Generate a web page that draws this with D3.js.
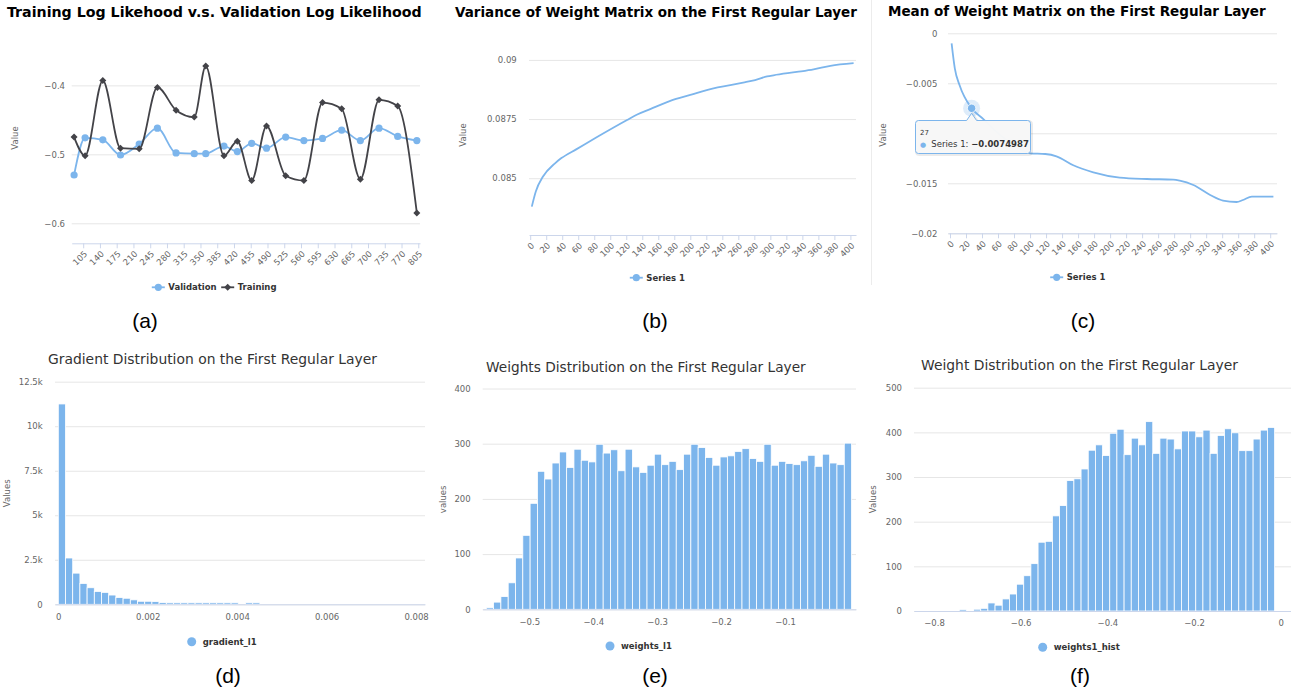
<!DOCTYPE html>
<html>
<head>
<meta charset="utf-8">
<script src="https://cdn.jsdelivr.net/npm/d3@7"></script>
<style>
  body { margin: 0; background: #fff; }
  svg { display: block; }
</style>
</head>
<body>
<script>
'use strict';

// ---- (a) log likelihood ----
var llEpochs = [86, 109, 146, 183, 222, 260, 299, 337, 361, 399, 427, 457, 488, 528, 566, 605, 645, 684, 723, 762, 802];
var validationLL = [-0.530, -0.476, -0.479, -0.501, -0.485, -0.462, -0.498, -0.499, -0.499, -0.488, -0.496,
  -0.484, -0.491, -0.475, -0.480, -0.477, -0.465, -0.480, -0.462, -0.474, -0.480];
var trainingLL = [-0.475, -0.502, -0.393, -0.491, -0.492, -0.403, -0.436, -0.446, -0.372, -0.502, -0.481,
  -0.538, -0.459, -0.531, -0.538, -0.425, -0.434, -0.536, -0.421, -0.430, -0.585];
var llTicks = [105, 140, 175, 210, 245, 280, 315, 350, 385, 420, 455, 490, 525, 560, 595, 630, 665, 700, 735, 770, 805];
var llGrid = [-0.6, -0.5, -0.4];

// ---- (b) variance ----
var iterTicks = [0, 20, 40, 60, 80, 100, 120, 140, 160, 180, 200, 220, 240, 260, 280, 300, 320, 340, 360, 380, 400];
var varianceIter = [2, 7, 16, 31, 39, 58, 83, 121, 133, 150, 175, 200, 229, 250, 266, 281, 296, 304, 333, 354, 375, 404];
var varianceVal = [0.0838, 0.08444, 0.08507, 0.08563, 0.08585, 0.08623, 0.08673, 0.08746, 0.08768, 0.08792, 0.08827,
  0.08852, 0.0888, 0.08893, 0.08904, 0.08915, 0.0893, 0.08935, 0.08949, 0.0896, 0.08975, 0.08986];
var varianceGrid = [0.085, 0.0875, 0.09];

// ---- (c) mean ----
var meanIter = [2, 6, 12, 27, 42, 56, 71, 86, 100, 119, 133, 154, 179, 212, 246, 279, 287, 304, 325, 341, 358, 366, 377, 404];
var meanVal = [-0.001, -0.0035, -0.0052, -0.0074987, -0.0086, -0.0097, -0.0107, -0.0115, -0.0120, -0.01207, -0.0123,
  -0.0132, -0.0139, -0.01443, -0.01457, -0.01463, -0.01473, -0.01517, -0.01617, -0.01673, -0.01687, -0.01667,
  -0.01633, -0.01633];
var meanGrid = [-0.02, -0.015, -0.01, -0.005, 0];
var meanHiddenLabel = -0.01; // covered by the tooltip in the screenshot
var hoverIndex = 3;

// ---- (d) gradient histogram ----
var gradientCounts = [11250, 2600, 1750, 1170, 930, 720, 670, 520, 380, 340, 250, 170, 170, 150, 100, 70, 70, 40, 60,
  30, 30, 30, 30, 30, 30, 0, 30, 30, 0, 0, 0, 0, 0, 0, 0, 0, 0, 0, 0, 0, 0, 0, 0, 0, 0, 0, 0, 0, 0, 0];
var gradientStart = 0, gradientStep = 0.000161;
var gradientTicks = [0, 0.002, 0.004, 0.006, 0.008];
var gradientGrid = [0, 2500, 5000, 7500, 10000, 12500];

// ---- (e) weights_l1 histogram ----
var weightsL1Counts = [2, 13, 23, 48, 93, 134, 192, 250, 236, 265, 285, 257, 290, 270, 267, 299, 283, 289, 251, 290,
  258, 248, 261, 281, 262, 268, 253, 281, 299, 293, 275, 261, 276, 278, 286, 291, 273, 268, 299, 261,
  268, 264, 262, 269, 279, 259, 281, 265, 262, 301];
var weightsL1Start = -0.5673, weightsL1Step = 0.01143;
var weightsL1Ticks = [-0.5, -0.4, -0.3, -0.2, -0.1];
var weightsL1Grid = [0, 100, 200, 300, 400];

// ---- (f) weights1_hist histogram ----
var weights1Counts = [0, 0, 0, 0, 0, 0, 2, 0, 4, 6, 18, 13, 27, 38, 60, 79, 106, 154, 156, 213, 236, 292, 296, 318,
  360, 372, 348, 398, 407, 350, 387, 372, 424, 353, 387, 385, 363, 403, 403, 390, 405, 353, 393, 408,
  399, 359, 359, 385, 405, 411];
var weights1Start = -0.841, weights1Step = 0.01654;
var weights1Ticks = [-0.8, -0.6, -0.4, -0.2, 0];
var weights1Grid = [0, 100, 200, 300, 400, 500];

var BLUE = '#7cb5ec', DARK = '#434348', GRID = '#e6e6e6', AXIS = '#ccd6eb', LABEL = '#666666';
var FONT = '"DejaVu Sans", Verdana, sans-serif';

var svg = d3.select('body').append('svg')
  .attr('width', 1291).attr('height', 692)
  .style('font-family', FONT);

var num = function (d) { return (d < 0 ? '\u2212' : '') + Math.abs(d); };
var kilo = function (d) { return d === 0 ? '0' : (d / 1000) + 'k'; };

// shrink/grow a text's font size so it spans the given width
var fit = function (sel, width) {
  var fs = parseFloat(sel.attr('font-size'));
  sel.attr('font-size', (fs * width / sel.node().getComputedTextLength()).toFixed(2));
  return sel;
};

var title = function (x, y, w, text, bold) {
  var t = svg.append('text').attr('x', x).attr('y', y).attr('font-size', 14)
    .attr('font-weight', bold ? 'bold' : 'normal')
    .attr('fill', bold ? '#000' : '#333').text(text);
  fit(t, w);
};

var panel = function (p) {
  var x = d3.scaleLinear().domain(p.xDomain).range([p.left, p.right]);
  var y = d3.scaleLinear().domain(p.yDomain).range([p.bottom, p.top]);

  var gy = svg.append('g').attr('transform', 'translate(' + p.left + ',0)')
    .call(d3.axisLeft(y).tickValues(p.yTicks).tickFormat(p.yFormat)
      .tickSize(-(p.right - p.left)).tickPadding(p.left - p.labelRight));
  gy.attr('font-family', null).attr('font-size', 8.5);
  gy.select('.domain').remove();
  gy.selectAll('line').attr('stroke', GRID);
  gy.selectAll('text').attr('fill', LABEL);
  gy.selectAll('text').filter(function () { return this.textContent === ''; }).remove();

  svg.append('text')
    .attr('transform', 'translate(' + p.titleX + ',' + p.titleY + ') rotate(-90)')
    .attr('text-anchor', 'middle').attr('dy', '0.35em')
    .attr('font-size', 8.5).attr('fill', LABEL).text(p.yTitle);

  var plot = svg.append('g');

  var gx = svg.append('g').attr('transform', 'translate(0,' + p.bottom + ')')
    .call(d3.axisBottom(x).tickValues(p.xTicks).tickFormat(p.xFormat)
      .tickSizeInner(p.tickLen).tickSizeOuter(0).tickPadding(p.tickLen ? 3 : 9.4));
  gx.attr('font-family', null).attr('font-size', 8.5);
  gx.select('.domain').attr('stroke', AXIS);
  gx.selectAll('.tick line').attr('stroke', AXIS);
  gx.selectAll('text').attr('fill', LABEL);
  if (p.rotate) {
    gx.selectAll('text').attr('text-anchor', 'end').attr('y', 0).attr('dy', '0.35em')
      .attr('transform', 'translate(2,9) rotate(-45)');
  }
  return { x: x, y: y, plot: plot };
};

var diamond = function (r) {
  return 'M0,' + (-r) + 'L' + r + ',0L0,' + r + 'L' + (-r) + ',0Z';
};

var series = function (pn, xs, ys, color, marker) {
  var pts = d3.zip(xs, ys);
  var line = d3.line().curve(d3.curveMonotoneX)
    .x(function (d) { return pn.x(d[0]); })
    .y(function (d) { return pn.y(d[1]); });
  pn.plot.append('path').datum(pts).attr('d', line)
    .attr('fill', 'none').attr('stroke', color).attr('stroke-width', 1.8);
  if (marker === 'circle') {
    pn.plot.selectAll(null).data(pts).join('circle')
      .attr('cx', function (d) { return pn.x(d[0]); })
      .attr('cy', function (d) { return pn.y(d[1]); })
      .attr('r', 3.6).attr('fill', color);
  } else if (marker === 'diamond') {
    pn.plot.selectAll(null).data(pts).join('path')
      .attr('transform', function (d) { return 'translate(' + pn.x(d[0]) + ',' + pn.y(d[1]) + ')'; })
      .attr('d', diamond(3.5)).attr('fill', color);
  }
};

var bars = function (pn, counts, start, step) {
  var bins = counts.map(function (c, i) { return { c: c, x0: start + i * step, x1: start + (i + 1) * step }; })
    .filter(function (d) { return d.c > 0; });
  pn.plot.selectAll('rect').data(bins).join('rect')
    .attr('x', function (d) { return pn.x(d.x0); })
    .attr('width', function (d) { return pn.x(d.x1) - pn.x(d.x0); })
    .attr('y', function (d) { return Math.min(pn.y(d.c), pn.y(0) - 1.5); })
    .attr('height', function (d) { return pn.y(0) - Math.min(pn.y(d.c), pn.y(0) - 1.5); })
    .attr('fill', BLUE).attr('stroke', '#fff').attr('stroke-width', 0.8);
};

var legendText = function (x, y, text) {
  svg.append('text').attr('x', x).attr('y', y).attr('dy', '0.35em')
    .attr('font-size', 8.5).attr('font-weight', 'bold').attr('fill', '#333').text(text);
};

var legendLine = function (x, y, color, marker, text) {
  svg.append('line').attr('x1', x - 6.5).attr('x2', x + 6.5).attr('y1', y).attr('y2', y)
    .attr('stroke', color).attr('stroke-width', 1.8);
  if (marker === 'diamond') {
    svg.append('path').attr('transform', 'translate(' + x + ',' + y + ')').attr('d', diamond(3.5)).attr('fill', color);
  } else {
    svg.append('circle').attr('cx', x).attr('cy', y).attr('r', 3.6).attr('fill', color);
  }
  legendText(x + 10, y, text);
};

var legendDot = function (x, y, text) {
  svg.append('circle').attr('cx', x).attr('cy', y).attr('r', 4.5).attr('fill', BLUE);
  legendText(x + 11, y, text);
};

var caption = function (x, y, text) {
  svg.append('text').attr('x', x).attr('y', y).attr('text-anchor', 'middle')
    .attr('font-family', '"Liberation Sans", Arial, sans-serif').attr('font-size', 21)
    .attr('fill', '#000').text(text);
};

// faint frame edge left of panel (c)
svg.append('line').attr('x1', 871.5).attr('x2', 871.5).attr('y1', 0).attr('y2', 285)
  .attr('stroke', '#ececec');

// ---------- (a) ----------
title(7, 17, 415, 'Training Log Likehood v.s. Validation Log Likelihood', true);
var pa = panel({
  left: 71.7, right: 420, top: 43.3, bottom: 243.3,
  xDomain: [81, 808.6], yDomain: [-0.629, -0.339],
  yTicks: llGrid, yFormat: function (d) { return num(d.toFixed(1)); }, labelRight: 65,
  xTicks: llTicks, xFormat: String, tickLen: 5, rotate: true,
  yTitle: 'Value', titleX: 15, titleY: 138
});
series(pa, llEpochs, validationLL, BLUE, 'circle');
series(pa, llEpochs, trainingLL, DARK, 'diamond');
legendLine(158.3, 287.3, BLUE, 'circle', 'Validation');
legendLine(227.7, 287.3, DARK, 'diamond', 'Training');
caption(145, 328, '(a)');

// ---------- (b) ----------
title(455, 17, 402, 'Variance of Weight Matrix on the First Regular Layer', true);
var pb = panel({
  left: 529, right: 856, top: 31.5, bottom: 235,
  xDomain: [-1.5, 407], yDomain: [0.0826, 0.0912],
  yTicks: varianceGrid, yFormat: num, labelRight: 516.7,
  xTicks: iterTicks, xFormat: String, tickLen: 5, rotate: true,
  yTitle: 'Value', titleX: 463.3, titleY: 135
});
series(pb, varianceIter, varianceVal, BLUE, null);
legendLine(636.3, 277.7, BLUE, 'circle', 'Series 1');
caption(655, 328, '(b)');

// ---------- (c) ----------
title(888, 16, 378, 'Mean of Weight Matrix on the First Regular Layer', true);
var pc = panel({
  left: 948, right: 1277, top: 33.3, bottom: 233.3,
  xDomain: [-2.5, 408.5], yDomain: [-0.02, 0],
  yTicks: meanGrid, yFormat: function (d) { return d === meanHiddenLabel ? '' : num(d); }, labelRight: 937.3,
  xTicks: iterTicks, xFormat: String, tickLen: 5, rotate: true,
  yTitle: 'Value', titleX: 883.3, titleY: 135
});
series(pc, meanIter, meanVal, BLUE, null);
legendLine(1056.7, 277.3, BLUE, 'circle', 'Series 1');
caption(1083, 328, '(c)');

// hover state + tooltip
var hx = pc.x(meanIter[hoverIndex]), hy = pc.y(meanVal[hoverIndex]);
pc.plot.append('circle').attr('cx', hx).attr('cy', hy).attr('r', 8.5).attr('fill', BLUE).attr('fill-opacity', 0.25);
pc.plot.append('circle').attr('cx', hx).attr('cy', hy).attr('r', 4.2).attr('fill', BLUE)
  .attr('stroke', '#fff').attr('stroke-width', 0.8);
var bx0 = 915.5, by0 = 120.5, bx1 = 1030.5, by1 = 153.5, rr = 3;
var callout = 'M' + (bx0 + rr) + ',' + by0 + 'L' + (hx - 5) + ',' + by0 + 'L' + hx + ',' + (hy + 5) +
  'L' + (hx + 5) + ',' + by0 + 'L' + (bx1 - rr) + ',' + by0 +
  'Q' + bx1 + ',' + by0 + ' ' + bx1 + ',' + (by0 + rr) + 'L' + bx1 + ',' + (by1 - rr) +
  'Q' + bx1 + ',' + by1 + ' ' + (bx1 - rr) + ',' + by1 + 'L' + (bx0 + rr) + ',' + by1 +
  'Q' + bx0 + ',' + by1 + ' ' + bx0 + ',' + (by1 - rr) + 'L' + bx0 + ',' + (by0 + rr) +
  'Q' + bx0 + ',' + by0 + ' ' + (bx0 + rr) + ',' + by0 + 'Z';
svg.append('path').attr('d', callout).attr('transform', 'translate(1,1)')
  .attr('fill', 'none').attr('stroke', '#000').attr('stroke-opacity', 0.08).attr('stroke-width', 3);
svg.append('path').attr('d', callout).attr('fill', '#f7f7f7').attr('fill-opacity', 0.98)
  .attr('stroke', BLUE).attr('stroke-width', 1);
svg.append('text').attr('x', 920).attr('y', 135).attr('font-size', 7).attr('fill', '#333')
  .text(meanIter[hoverIndex]);
var tip = svg.append('text').attr('x', 920).attr('y', 147).attr('font-size', 8.5).attr('fill', '#333');
tip.append('tspan').attr('fill', BLUE).attr('font-size', 7).text('\u25CF');
tip.append('tspan').attr('dx', 2.5).text(' Series 1: ');
tip.append('tspan').attr('font-weight', 'bold').text(num(meanVal[hoverIndex]));

// ---------- (d) ----------
title(48, 364, 329, 'Gradient Distribution on the First Regular Layer', false);
var pd = panel({
  left: 55, right: 425, top: 381.7, bottom: 604.3,
  xDomain: [-0.000074, 0.0082], yDomain: [0, 12500],
  yTicks: gradientGrid, yFormat: kilo, labelRight: 42.7,
  xTicks: gradientTicks, xFormat: String, tickLen: 0, rotate: false,
  yTitle: 'Values', titleX: 7.3, titleY: 493.3
});
bars(pd, gradientCounts, gradientStart, gradientStep);
legendDot(191.7, 641.7, 'gradient_l1');
caption(228, 683, '(d)');

// ---------- (e) ----------
title(486, 372, 320, 'Weights Distribution on the First Regular Layer', false);
var pe = panel({
  left: 482.7, right: 856, top: 388.5, bottom: 609.3,
  xDomain: [-0.5729, 0.0111], yDomain: [0, 400],
  yTicks: weightsL1Grid, yFormat: String, labelRight: 470.7,
  xTicks: weightsL1Ticks, xFormat: num, tickLen: 0, rotate: false,
  yTitle: 'values', titleX: 443.3, titleY: 499.3
});
bars(pe, weightsL1Counts, weightsL1Start, weightsL1Step);
legendDot(610, 646, 'weights_l1');
caption(655, 683, '(e)');

// ---------- (f) ----------
title(921, 370, 317, 'Weight Distribution on the First Regular Layer', false);
var pf = panel({
  left: 914, right: 1291, top: 387.7, bottom: 611,
  xDomain: [-0.8461, 0.0238], yDomain: [0, 500],
  yTicks: weights1Grid, yFormat: String, labelRight: 902,
  xTicks: weights1Ticks, xFormat: num, tickLen: 0, rotate: false,
  yTitle: 'Values', titleX: 873.3, titleY: 499.3
});
bars(pf, weights1Counts, weights1Start, weights1Step);
legendDot(1042.7, 647.3, 'weights1_hist');
caption(1080, 683, '(f)');
</script>
</body>
</html>
